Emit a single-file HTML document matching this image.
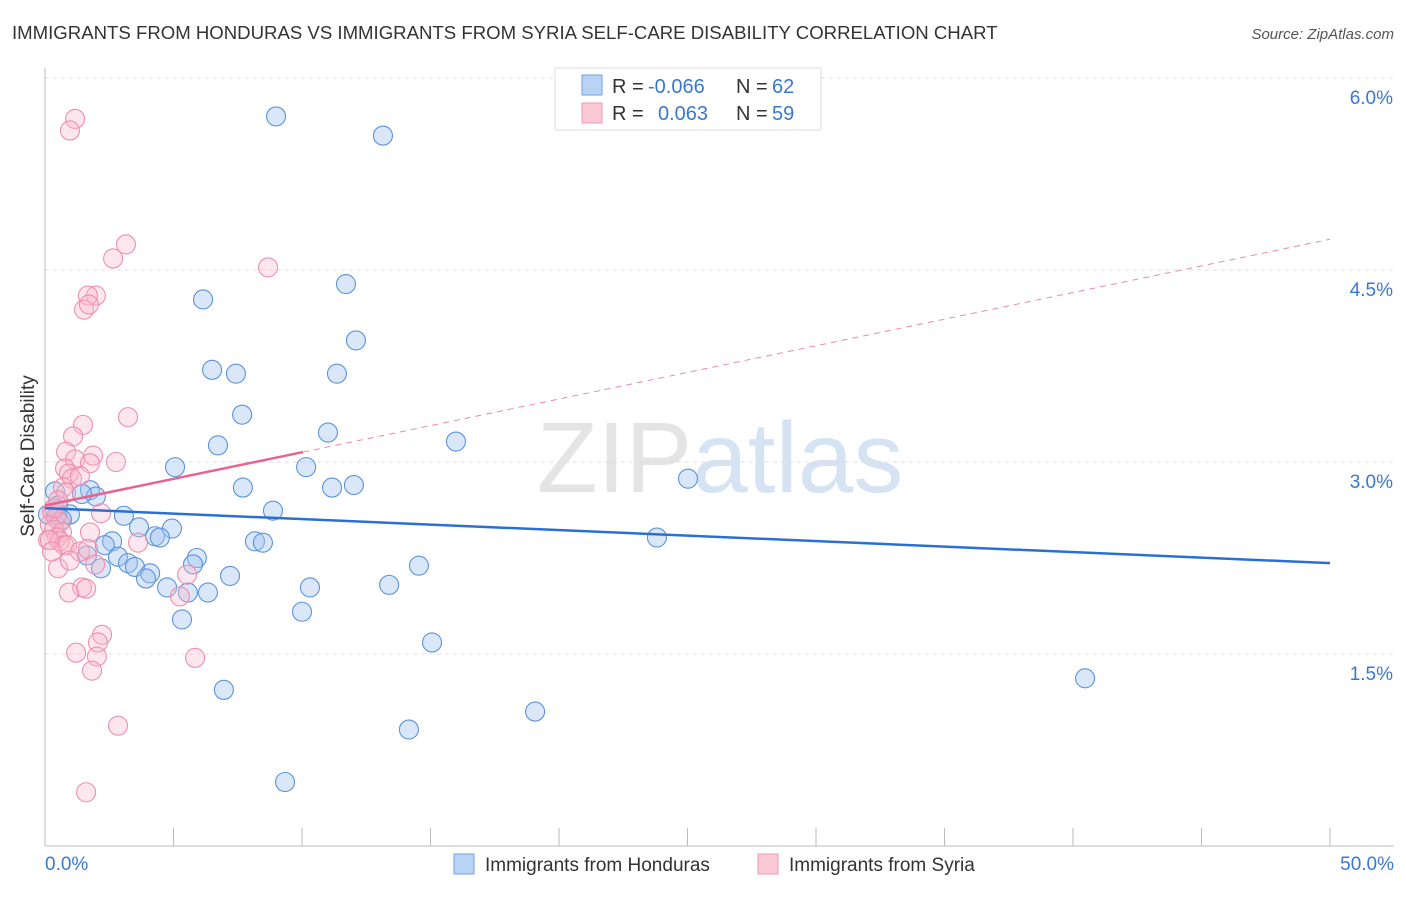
<!DOCTYPE html>
<html><head><meta charset="utf-8"><style>
body{margin:0;background:#fff;font-family:"Liberation Sans",sans-serif;}
svg text{font-family:"Liberation Sans",sans-serif;}
</style></head><body>
<svg id="chart" width="1406" height="892" xmlns="http://www.w3.org/2000/svg">
<text x="12" y="39" font-size="18.6" fill="#333">IMMIGRANTS FROM HONDURAS VS IMMIGRANTS FROM SYRIA SELF-CARE DISABILITY CORRELATION CHART</text>
<text x="1394" y="39" font-size="15" fill="#555" text-anchor="end" font-style="italic">Source: ZipAtlas.com</text>
<text x="720" y="492" font-size="100" fill="#e4e4e4" text-anchor="middle" font-family="Liberation Serif">ZIP<tspan fill="#d5e3f3" font-family="Liberation Sans">atlas</tspan></text>
<g id="grid"></g><g id="axes"></g><g id="pts"></g><g id="trends"></g>
<text transform="translate(34,456) rotate(-90)" font-size="19" fill="#333" text-anchor="middle">Self-Care Disability</text>
<g>
<rect x="555" y="68" width="266" height="62" fill="#fff" stroke="#ddd"/>
<rect x="582" y="75" width="20" height="20" fill="#b9d3f5" stroke="#6fa0e0"/>
<rect x="582" y="103" width="20" height="20" fill="#fbc8d6" stroke="#ee98b2"/>
<text x="612" y="93" font-size="20" fill="#333">R =</text>
<text x="648" y="93" font-size="20" fill="#3a78d0">-0.066</text>
<text x="736" y="93" font-size="20" fill="#333">N =</text>
<text x="772" y="93" font-size="20" fill="#3a78d0">62</text>
<text x="612" y="120" font-size="20" fill="#333">R =</text>
<text x="658" y="120" font-size="20" fill="#3a78d0">0.063</text>
<text x="736" y="120" font-size="20" fill="#333">N =</text>
<text x="772" y="120" font-size="20" fill="#3a78d0">59</text>
</g>
<g>
<rect x="454" y="854" width="20" height="20" fill="#b9d3f5" stroke="#6fa0e0"/>
<text x="485" y="871" font-size="19" fill="#333">Immigrants from Honduras</text>
<rect x="758" y="854" width="20" height="20" fill="#fbc8d6" stroke="#ee98b2"/>
<text x="789" y="871" font-size="19" fill="#333">Immigrants from Syria</text>
</g>
</svg>
<script>
const xTicks=[0,5,10,15,20,25,30,35,40,45,50];
const yTicks=[1.5,3.0,4.5,6.0];
const yTickLabels=["1.5%","3.0%","4.5%","6.0%"];
const hondurasX=[8.99,13.15,6.15,11.71,12.10,6.50,7.43,11.36,7.67,6.73,11.01,15.99,5.06,10.16,7.70,11.17,12.02,25.02,0.39,1.75,1.98,1.44,0.51,8.87,3.07,0.47,0.97,3.66,4.94,4.28,4.47,23.81,8.17,8.48,2.61,2.33,1.63,2.84,5.91,3.23,3.50,14.55,2.18,5.76,4.09,7.20,3.93,4.75,10.31,13.39,6.34,5.56,10.00,5.33,15.06,40.47,6.96,19.07,14.16,9.34,0.12,0.66];
const hondurasY=[5.70,5.55,4.27,4.39,3.95,3.72,3.69,3.69,3.37,3.13,3.23,3.16,2.96,2.96,2.80,2.80,2.82,2.87,2.77,2.78,2.73,2.75,2.66,2.62,2.58,2.59,2.59,2.49,2.48,2.42,2.41,2.41,2.38,2.37,2.38,2.35,2.27,2.26,2.25,2.21,2.18,2.19,2.17,2.20,2.13,2.11,2.09,2.02,2.02,2.04,1.98,1.98,1.83,1.77,1.59,1.31,1.22,1.05,0.91,0.50,2.59,2.55];
const syriaX=[1.17,0.97,3.15,2.65,8.68,1.98,1.67,1.52,1.71,3.23,1.48,1.09,0.82,1.87,1.17,2.76,1.75,0.78,0.93,1.05,1.36,0.70,0.82,2.18,0.27,0.43,0.58,0.19,0.35,0.66,1.75,0.47,0.12,0.58,0.74,3.62,0.86,0.19,1.36,1.67,0.51,1.95,5.53,1.44,1.60,0.93,5.25,2.22,2.06,2.02,1.21,1.83,5.84,2.84,1.60,0.35,0.51,0.27,0.97];
const syriaY=[5.68,5.59,4.70,4.59,4.52,4.30,4.30,4.19,4.23,3.35,3.29,3.20,3.08,3.05,3.02,3.00,2.99,2.95,2.91,2.87,2.89,2.80,2.76,2.60,2.61,2.56,2.53,2.51,2.47,2.45,2.45,2.41,2.39,2.38,2.35,2.37,2.35,2.39,2.30,2.32,2.17,2.20,2.12,2.02,2.01,1.98,1.95,1.65,1.59,1.48,1.51,1.37,1.47,0.94,0.42,2.64,2.70,2.30,2.23];
const hondurasTrend=[2.64,2.21];
const syriaTrend=[2.66,4.74];
const syriaSolidEnd=10.04;
const X=v=>45+v/50*1285, Y=v=>846-v/6*768;
const NS="http://www.w3.org/2000/svg";
function mk(p,t,a){const e=document.createElementNS(NS,t);for(const k in a)e.setAttribute(k,a[k]);p.appendChild(e);return e;}
const grid=document.getElementById('grid'),axes=document.getElementById('axes'),pts=document.getElementById('pts'),tr=document.getElementById('trends');
yTicks.forEach((v,i)=>{
 const l=mk(grid,'line',{x1:45,x2:1394,y1:Y(v),y2:Y(v),stroke:'#ddd','stroke-dasharray':'4,4'});
 
 
 const t=mk(axes,'text',{x:1393,y:Y(v)+26,'font-size':19,fill:'#3a78d0','text-anchor':'end'});
 t.textContent=yTickLabels[i];
 
 
});
const ax=mk(axes,'line',{x1:45,x2:45,y1:68,y2:846,stroke:'#bbb'});


const bx=mk(axes,'line',{x1:45,x2:1394,y1:846,y2:846,stroke:'#bbb'});


xTicks.forEach(v=>{const t=mk(axes,'line',{x1:X(v),x2:X(v),y1:828,y2:846,stroke:'#bbb'});
 
 });
[[0,"0.0%",'start',45],[50,"50.0%",'end',1394]].forEach(d=>{const t=mk(axes,'text',{x:d[3],y:870,'font-size':19,fill:'#3a78d0','text-anchor':d[2]});t.textContent=d[1];
 
 });
hondurasX.forEach((x,i)=>{const c=mk(pts,'circle',{cx:X(x),cy:Y(hondurasY[i]),r:9.5,fill:'rgba(160,196,240,0.4)',stroke:'#5b93dc','stroke-width':1.1});
 
 });
syriaX.forEach((x,i)=>{const c=mk(pts,'circle',{cx:X(x),cy:Y(syriaY[i]),r:9.5,fill:'rgba(248,182,202,0.35)',stroke:'#ee8fae','stroke-width':1.1});
 
 });
const b=mk(tr,'line',{x1:X(0),y1:Y(hondurasTrend[0]),x2:X(50),y2:Y(hondurasTrend[1]),stroke:'#2a6fd6','stroke-width':2.5});


const sy=v=>syriaTrend[0]+(syriaTrend[1]-syriaTrend[0])*v/50;
const s1=mk(tr,'line',{x1:X(0),y1:Y(sy(0)),x2:X(syriaSolidEnd),y2:Y(sy(syriaSolidEnd)),stroke:'#e8638f','stroke-width':2.5});


const s2=mk(tr,'line',{x1:X(syriaSolidEnd),y1:Y(sy(syriaSolidEnd)),x2:X(50),y2:Y(sy(50)),stroke:'#eb8aa8','stroke-width':1,'stroke-dasharray':'6,5'});


</script>
</body></html>
